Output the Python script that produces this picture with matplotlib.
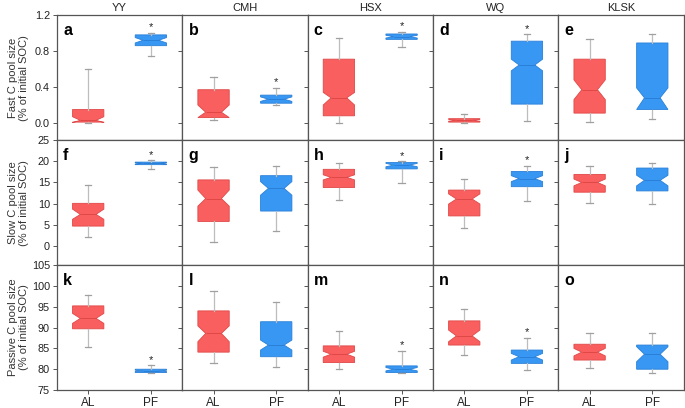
import matplotlib.pyplot as plt

plt.rcParams['font.family'] = ['Liberation Sans', 'DejaVu Sans']

sites = ['YY', 'CMH', 'HSX', 'WQ', 'KLSK']
groups = ['AL', 'PF']
pools = ['Fast C pool size\n(% of initial SOC)',
         'Slow C pool size\n(% of initial SOC)',
         'Passive C pool size\n(% of initial SOC)']
letters = ['a', 'b', 'c', 'd', 'e', 'f', 'g', 'h', 'i', 'j', 'k', 'l', 'm', 'n', 'o']

# box statistics, one list per pool, per site: (AL, PF)
# each entry: whislo, q1, med, q3, whishi, cilo, cihi
fast = [
    [(0.0, 0.01, 0.03, 0.15, 0.60, 0.005, 0.07), (0.74, 0.86, 0.92, 0.98, 1.0, 0.89, 0.95)],
    [(0.03, 0.06, 0.12, 0.37, 0.51, 0.06, 0.20), (0.20, 0.22, 0.265, 0.31, 0.39, 0.24, 0.29)],
    [(0.0, 0.08, 0.28, 0.71, 0.94, 0.20, 0.34), (0.85, 0.93, 0.96, 0.99, 1.01, 0.945, 0.975)],
    [(0.0, 0.01, 0.03, 0.048, 0.10, 0.02, 0.04), (0.025, 0.21, 0.645, 0.91, 0.985, 0.58, 0.71)],
    [(0.01, 0.11, 0.37, 0.71, 0.93, 0.26, 0.48), (0.05, 0.15, 0.28, 0.89, 0.99, 0.15, 0.39)],
]
slow = [
    [(2.05, 4.7, 7.46, 10.07, 14.5, 6.3, 8.7), (18.2, 19.2, 19.5, 19.8, 20.2, 19.35, 19.65)],
    [(1.0, 5.8, 11.2, 15.6, 18.6, 9.4, 13.2), (3.5, 8.25, 13.6, 16.6, 19.0, 12.0, 15.2)],
    [(10.8, 13.8, 16.2, 18.1, 19.7, 15.6, 16.8), (14.8, 18.2, 19.1, 19.7, 20.0, 18.7, 19.5)],
    [(4.2, 7.1, 11.1, 13.2, 15.7, 9.9, 12.3), (10.6, 14.0, 15.9, 17.6, 19.0, 15.2, 16.6)],
    [(10.1, 12.7, 15.0, 16.9, 18.9, 14.2, 15.8), (9.9, 13.0, 15.5, 18.4, 19.5, 14.2, 16.7)],
]
passive = [
    [(85.4, 89.7, 92.2, 95.2, 97.9, 91.0, 93.4), (79.0, 79.2, 79.6, 80.0, 80.9, 79.45, 79.75)],
    [(81.4, 84.1, 88.6, 94.0, 98.7, 86.6, 90.4), (80.6, 83.0, 85.8, 91.4, 96.1, 84.6, 87.0)],
    [(80.0, 81.6, 83.6, 85.6, 89.2, 82.9, 84.3), (79.0, 79.2, 80.0, 80.8, 84.4, 79.6, 80.4)],
    [(83.5, 85.8, 88.0, 91.6, 94.4, 86.6, 89.4), (79.8, 81.4, 83.0, 84.6, 87.6, 82.2, 83.8)],
    [(80.2, 82.2, 84.1, 86.0, 88.6, 83.2, 85.0), (79.2, 80.0, 83.6, 85.8, 88.6, 81.8, 85.4)],
]
# significant difference (asterisk above PF)
signif = [
    [True, True, True, True, False],
    [True, False, True, True, False],
    [True, False, True, True, False],
]

ylims = [(-0.19, 1.2), (-4.5, 25), (75, 105)]
yticks = [[0.0, 0.4, 0.8, 1.2], [0, 5, 10, 15, 20, 25], [75, 80, 85, 90, 95, 100, 105]]
yfmt = ['{:.1f}', '{:d}', '{:d}']

colors = ['#FA5F5F', '#3897F2']
edges = ['#E04848', '#2A80D8']

fig, axs = plt.subplots(3, 5, figsize=(6.85, 4.08), dpi=100, sharex=True)
fig.subplots_adjust(left=0.083, right=0.998, top=0.963, bottom=0.044, wspace=0, hspace=0)

keys = ['whislo', 'q1', 'med', 'q3', 'whishi', 'cilo', 'cihi']
for r, pool in enumerate([fast, slow, passive]):
    for c in range(5):
        ax = axs[r][c]
        stats = []
        for g in range(2):
            d = dict(zip(keys, pool[c][g]))
            d['fliers'] = []
            stats.append(d)
        bp = ax.bxp(stats, positions=[1, 2], widths=0.5, shownotches=True, patch_artist=True,
                    showfliers=False,
                    whiskerprops=dict(color='#BDBDBD', lw=0.9),
                    capprops=dict(color='#A0A0A0', lw=0.9),
                    medianprops=dict(lw=0.7))
        for g in range(2):
            bp['boxes'][g].set_facecolor(colors[g])
            bp['boxes'][g].set_edgecolor(edges[g])
            bp['boxes'][g].set_linewidth(0.6)
            bp['medians'][g].set_color(edges[g])
            for cap in bp['caps'][2 * g:2 * g + 2]:
                cap.set_xdata([g + 1 - 0.05, g + 1 + 0.05])
        if signif[r][c]:
            lo, hi = ylims[r]
            ax.text(2, pool[c][1][4] + 0.045 * (hi - lo), '*', ha='center', va='center',
                    fontsize=8, color='#222222')
        ax.set_xlim(0.5, 2.5)
        ax.set_ylim(*ylims[r])
        ax.set_yticks(yticks[r])
        ax.text(0.05, 0.94, letters[r * 5 + c], transform=ax.transAxes, fontsize=11.5,
                fontweight='bold', va='top', ha='left')
        for sp in ax.spines.values():
            sp.set_color('#555555')
            sp.set_linewidth(0.9)
        ax.tick_params(length=3, width=0.7, color='#555555', labelsize=7.8, pad=2,
                       labelcolor='#222222')
        ax.tick_params(axis='x', labelsize=8.5)
        if c == 0:
            ax.set_yticklabels([yfmt[r].format(v) for v in yticks[r]])
            ax.set_ylabel(pools[r], fontsize=8, linespacing=1.1, color='#333333')
            ax.yaxis.set_label_coords(-0.225, 0.5)
        else:
            ax.tick_params(labelleft=False)
        if r == 0:
            ax.set_title(sites[c], fontsize=8, pad=3, color='#222222')
        if r == 2:
            ax.set_xticks([1, 2])
            ax.set_xticklabels(groups)

fig.savefig('out.png', dpi=100)
